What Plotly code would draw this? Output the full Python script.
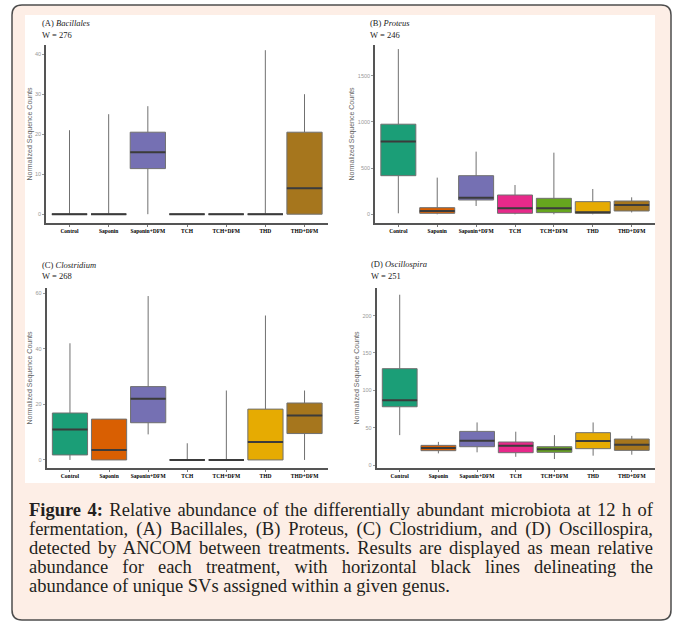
import plotly.graph_objects as go

W, H = 675, 624

categories = ["Control", "Saponin", "Saponin+DFM", "TCH", "TCH+DFM", "THD", "THD+DFM"]
colors = ["#1B9E77", "#D95F02", "#7570B3", "#E7298A", "#66A61E", "#E6AB02", "#A6761D"]

# Panel A: Bacillales
a_lower = [0, 0, 0, 0, 0, 0, 0]
a_q1 = [0, 0, 11.4, 0, 0, 0, 0]
a_med = [0, 0, 15.5, 0, 0, 0, 6.5]
a_q3 = [0, 0, 20.5, 0, 0, 0, 20.5]
a_upper = [21, 25, 27, 0, 0, 41, 30]
a_ticks = [0, 10, 20, 30, 40]

# Panel B: Proteus
b_lower = [11, 0, 90, 0, 0, 0, 20]
b_q1 = [418, 11, 155, 11, 18, 11, 36]
b_med = [787, 36, 180, 65, 65, 22, 101]
b_q3 = [975, 72, 418, 209, 173, 137, 144]
b_upper = [1788, 397, 678, 317, 667, 274, 184]
b_ticks = [0, 500, 1000, 1500]

# Panel C: Clostridium
c_lower = [0, 0, 9.2, 0, 0, 0, 0]
c_q1 = [1.8, 0, 13.4, 0, 0, 0, 9.5]
c_med = [11, 3.6, 22, 0, 0, 6.5, 16]
c_q3 = [16.9, 14.7, 26.4, 0, 0, 18.3, 20.5]
c_upper = [42, 14.7, 59, 6, 25, 52, 25]
c_ticks = [0, 20, 40, 60]

# Panel D: Oscillospira
d_lower = [40, 15.6, 17, 11, 8, 12.5, 13.8]
d_q1 = [78, 19.2, 24.5, 16.5, 17, 21.9, 19.6]
d_med = [86.6, 22.8, 32.6, 25.9, 21, 32, 27.2]
d_q3 = [129, 26.3, 45, 30.8, 24.5, 43.3, 34.8]
d_upper = [228, 31, 57, 44.6, 40, 57, 39]
d_ticks = [0, 50, 100, 150, 200]

panels = [
    dict(name="(A) ", genus="Bacillales", w="W = 276", lower=a_lower, q1=a_q1, med=a_med, q3=a_q3,
         upper=a_upper, ticks=a_ticks, yrange=[-2.2, 42.3], px=(46, 328), py=(45, 223), tpos=(40, 23.5)),
    dict(name="(B) ", genus="Proteus", w="W = 246", lower=b_lower, q1=b_q1, med=b_med, q3=b_q3,
         upper=b_upper, ticks=b_ticks, yrange=[-94, 1832], px=(375, 655), py=(45, 223), tpos=(368, 23.5)),
    dict(name="(C) ", genus="Clostridium", w="W = 268", lower=c_lower, q1=c_q1, med=c_med, q3=c_q3,
         upper=c_upper, ticks=c_ticks, yrange=[-2.9, 61.9], px=(46.5, 328), py=(288, 468), tpos=(40, 265)),
    dict(name="(D) ", genus="Oscillospira", w="W = 251", lower=d_lower, q1=d_q1, med=d_med, q3=d_q3,
         upper=d_upper, ticks=d_ticks, yrange=[-4, 237], px=(376.5, 655), py=(288, 468), tpos=(369, 264.5)),
]

caption_lines = [
    "<b>Figure 4:</b> Relative abundance of the differentially abundant microbiota at 12 h of",
    "fermentation, (A) Bacillales, (B) Proteus, (C) Clostridium, and (D) Oscillospira,",
    "detected by ANCOM between treatments. Results are displayed as mean relative",
    "abundance for each treatment, with horizontal black lines delineating the",
    "abundance of unique SVs assigned within a given genus.",
]

fig = go.Figure()
layout = {}
annotations = []

BOXW = 0.9
for k, p in enumerate(panels):
    sfx = "" if k == 0 else str(k + 1)
    xa, ya = "x" + sfx, "y" + sfx
    for i, cat in enumerate(categories):
        fig.add_trace(go.Box(
            x=[i], q1=[p["q1"][i]], median=[p["med"][i]], q3=[p["q3"][i]],
            lowerfence=[p["lower"][i]], upperfence=[p["upper"][i]],
            width=BOXW, whiskerwidth=0, fillcolor=colors[i],
            line=dict(color="#707070", width=1), boxpoints=False,
            xaxis=xa, yaxis=ya, showlegend=False, hoverinfo="skip"))
    mx, my = [], []
    for i in range(len(categories)):
        mx += [i - BOXW / 2, i + BOXW / 2, None]
        my += [p["med"][i], p["med"][i], None]
    fig.add_trace(go.Scatter(x=mx, y=my, mode="lines", line=dict(color="#3b3b3b", width=2),
                             xaxis=xa, yaxis=ya, showlegend=False, hoverinfo="skip"))
    x0, x1 = p["px"]
    y0, y1 = p["py"]
    layout["xaxis" + sfx] = dict(
        domain=[x0 / W, x1 / W], range=[-0.6, 6.6], anchor=ya,
        tickvals=list(range(len(categories))), ticktext=["<b>" + c + "</b>" for c in categories],
        tickfont=dict(family="Liberation Serif", size=5.5, color="#000"),
        ticks="outside", ticklen=2, tickcolor="#777", showline=True, linecolor="#555", linewidth=1.6,
        showgrid=False, zeroline=False, fixedrange=True)
    layout["yaxis" + sfx] = dict(
        domain=[1 - y1 / H, 1 - y0 / H], range=p["yrange"], anchor=xa,
        tickvals=p["ticks"], ticktext=[str(t) for t in p["ticks"]],
        tickfont=dict(family="Liberation Sans", size=5.5, color="#999"),
        ticks="outside", ticklen=2, tickcolor="#999", showline=True, linecolor="#555", linewidth=1.6,
        showgrid=False, zeroline=False, fixedrange=True,
        title=dict(text="Normalized Sequence Counts", standoff=2,
                   font=dict(family="Liberation Sans", size=7, color="#666")))
    tx, ty = p["tpos"]
    annotations.append(dict(x=tx / W, y=1 - ty / H, xref="paper", yref="paper", xanchor="left",
                            yanchor="middle", showarrow=False, align="left",
                            text=p["name"] + "<i>" + p["genus"] + "</i>",
                            font=dict(family="Liberation Serif", size=8.5, color="#222")))
    annotations.append(dict(x=tx / W, y=1 - (ty + 11) / H, xref="paper", yref="paper", xanchor="left",
                            yanchor="middle", showarrow=False, text=p["w"], align="left",
                            font=dict(family="Liberation Serif", size=8.5, color="#222")))

cap_y0, cap_dy = 510, 19
for j, line in enumerate(caption_lines):
    annotations.append(dict(x=27 / W, y=1 - (cap_y0 + j * cap_dy) / H, xref="paper", yref="paper",
                            xanchor="left", yanchor="middle", showarrow=False, text=line, align="left",
                            font=dict(family="Liberation Serif", size=18.5, color="#231f20")))


def rounded(xl, yt, xr, yb, r):
    X = lambda v: v / W
    Y = lambda v: 1 - v / H
    return (f"M {X(xl + r)} {Y(yt)} L {X(xr - r)} {Y(yt)} Q {X(xr)} {Y(yt)} {X(xr)} {Y(yt + r)} "
            f"L {X(xr)} {Y(yb - r)} Q {X(xr)} {Y(yb)} {X(xr - r)} {Y(yb)} "
            f"L {X(xl + r)} {Y(yb)} Q {X(xl)} {Y(yb)} {X(xl)} {Y(yb - r)} "
            f"L {X(xl)} {Y(yt + r)} Q {X(xl)} {Y(yt)} {X(xl + r)} {Y(yt)} Z")


shapes = [
    dict(type="path", path=rounded(12, 5, 671, 620, 10), xref="paper", yref="paper",
         fillcolor="#fdeee6", line=dict(color="#4d4d4d", width=1.5), layer="below"),
    dict(type="rect", x0=25 / W, x1=655 / W, y0=1 - 483 / H, y1=1 - 15 / H, xref="paper", yref="paper",
         fillcolor="#ffffff", line=dict(width=0), layer="below"),
]

fig.update_layout(width=W, height=H, autosize=False, margin=dict(l=0, r=0, t=0, b=0),
                  paper_bgcolor="#ffffff", plot_bgcolor="rgba(0,0,0,0)",
                  boxmode="overlay", annotations=annotations, shapes=shapes, **layout)

n_axis_ann = 2 * len(panels)
n_just = len(caption_lines) - 1
post_script = """
document.body.style.margin = '0';
document.documentElement.style.margin = '0';
(function(){
  var gd = document.getElementById('{plot_id}');
  var FIRST = %d, LAST = %d, TARGET = %f;
  function just(){
    var anns = gd.querySelectorAll('g.annotation');
    anns.forEach(function(a){
      var idx = +a.getAttribute('data-index');
      if (idx >= FIRST && idx <= LAST) {
        var t = a.querySelector('text.annotation-text');
        if (!t) return;
        t.style.wordSpacing = '0px';
        var len = t.getComputedTextLength();
        var s = (t.textContent.match(/ /g) || []).length;
        if (s > 0 && len < TARGET) { t.style.wordSpacing = ((TARGET - len) / s) + 'px'; }
      }
    });
  }
  just();
  if (document.fonts && document.fonts.ready) { document.fonts.ready.then(just); }
})();
""" % (n_axis_ann, n_axis_ann + n_just - 1, 624.0)

fig.write_html("out.html", post_script=post_script, config={"displayModeBar": False})
